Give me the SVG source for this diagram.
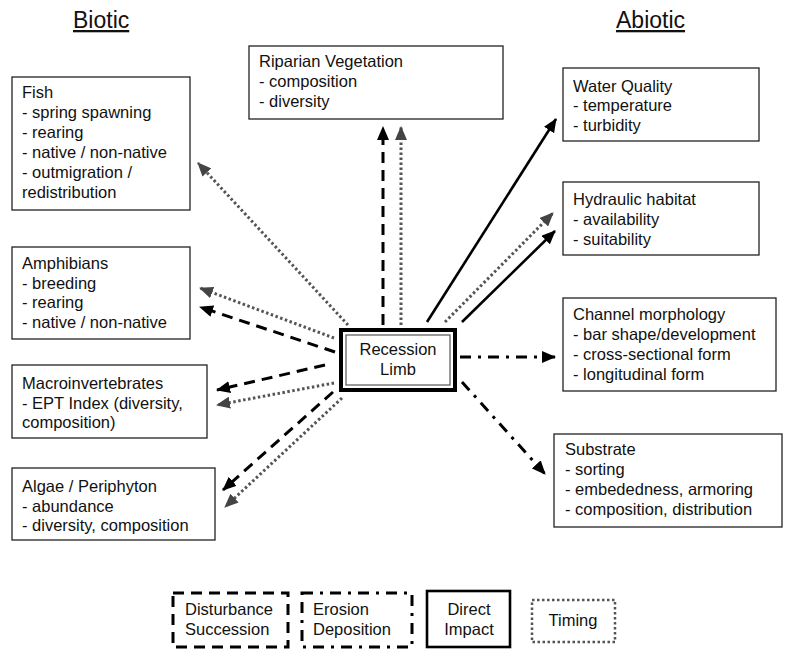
<svg xmlns="http://www.w3.org/2000/svg" width="785" height="656" viewBox="0 0 785 656">
<style>
text{font-family:"Liberation Sans",Arial,sans-serif;font-size:16.5px;fill:#111}
.title{font-size:23px;text-decoration:underline}
.box{fill:#fff;stroke:#222;stroke-width:1.3}
.c{text-anchor:middle}
.dash{fill:none;stroke:#000;stroke-width:3;stroke-dasharray:11 7}
.dot{fill:none;stroke:#555;stroke-width:3;stroke-dasharray:2.5 2.5}
.dd{fill:none;stroke:#000;stroke-width:3;stroke-dasharray:11 7 3 7}
.solid{fill:none;stroke:#000;stroke-width:2.6}
</style>
<defs>
<marker id="ab" markerUnits="userSpaceOnUse" markerWidth="14" markerHeight="12" refX="13" refY="6" orient="auto" viewBox="0 0 14 12"><path d="M0,0 L14,6 L0,12 z" fill="#000"/></marker>
<marker id="ag" markerUnits="userSpaceOnUse" markerWidth="14" markerHeight="12" refX="13" refY="6" orient="auto" viewBox="0 0 14 12"><path d="M0,0 L14,6 L0,12 z" fill="#444"/></marker>
</defs>

<text class="title" x="73" y="28">Biotic</text>
<text class="title" x="616" y="28">Abiotic</text>

<g id="connectors">
<line class="dot" x1="348" y1="325" x2="198" y2="163" marker-end="url(#ag)"/>
<line class="dot" x1="334" y1="338" x2="200" y2="288" marker-end="url(#ag)"/>
<line class="dash" x1="335" y1="352" x2="200" y2="307" marker-end="url(#ab)"/>
<line class="dash" x1="325" y1="365" x2="217" y2="390" marker-end="url(#ab)"/>
<line class="dot" x1="334" y1="383" x2="217" y2="405" marker-end="url(#ag)"/>
<line class="dash" x1="333" y1="392" x2="223" y2="490" marker-end="url(#ab)"/>
<line class="dot" x1="342" y1="398" x2="225" y2="507" marker-end="url(#ag)"/>
<line class="dash" x1="383" y1="325" x2="383" y2="127" marker-end="url(#ab)"/>
<line class="dot" x1="401" y1="325" x2="401" y2="127" marker-end="url(#ag)"/>
<line class="solid" x1="427" y1="322" x2="556" y2="119" marker-end="url(#ab)"/>
<line class="dot" x1="445" y1="322" x2="553" y2="213" marker-end="url(#ag)"/>
<line class="solid" x1="462" y1="322" x2="555" y2="231" marker-end="url(#ab)"/>
<line class="dd" x1="460" y1="357" x2="555" y2="357" marker-end="url(#ab)"/>
<line class="dd" x1="462" y1="382" x2="545" y2="474" marker-end="url(#ab)"/>
</g>

<g id="recession">
<rect x="341" y="330" width="114" height="60" fill="#fff" stroke="#000" stroke-width="4"/>
<rect x="346" y="335" width="104" height="50" fill="none" stroke="#555" stroke-width="1.2"/>
<text class="c" x="398" y="355">Recession</text>
<text class="c" x="398" y="375">Limb</text>
</g>

<g id="fish">
<rect class="box" x="12" y="77" width="178" height="133"/>
<text x="22" y="98">Fish</text>
<text x="22" y="118">- spring spawning</text>
<text x="22" y="138">- rearing</text>
<text x="22" y="158">- native / non-native</text>
<text x="22" y="178">- outmigration /</text>
<text x="22" y="198">redistribution</text>
</g>

<g id="riparian">
<rect class="box" x="249" y="46" width="254" height="73"/>
<text x="259" y="67">Riparian Vegetation</text>
<text x="259" y="87">- composition</text>
<text x="259" y="107">- diversity</text>
</g>

<g id="amphibians">
<rect class="box" x="12" y="247" width="178" height="92"/>
<text x="22" y="269">Amphibians</text>
<text x="22" y="289">- breeding</text>
<text x="22" y="308">- rearing</text>
<text x="22" y="328">- native / non-native</text>
</g>

<g id="macro">
<rect class="box" x="12" y="365" width="195" height="73"/>
<text x="22" y="389">Macroinvertebrates</text>
<text x="22" y="409">- EPT Index (diversity,</text>
<text x="22" y="428">composition)</text>
</g>

<g id="algae">
<rect class="box" x="12" y="468" width="203" height="72"/>
<text x="22" y="492">Algae / Periphyton</text>
<text x="22" y="512">- abundance</text>
<text x="22" y="531">- diversity, composition</text>
</g>

<g id="water">
<rect class="box" x="563" y="68" width="196" height="73"/>
<text x="573" y="92">Water Quality</text>
<text x="573" y="111">- temperature</text>
<text x="573" y="131">- turbidity</text>
</g>

<g id="hydraulic">
<rect class="box" x="563" y="182" width="196" height="73"/>
<text x="573" y="205">Hydraulic habitat</text>
<text x="573" y="225">- availability</text>
<text x="573" y="245">- suitability</text>
</g>

<g id="channel">
<rect class="box" x="563" y="298" width="213" height="93"/>
<text x="573" y="320">Channel morphology</text>
<text x="573" y="340">- bar shape/development</text>
<text x="573" y="360">- cross-sectional form</text>
<text x="573" y="380">- longitudinal form</text>
</g>

<g id="substrate">
<rect class="box" x="554" y="434" width="228" height="93"/>
<text x="565" y="455">Substrate</text>
<text x="565" y="475">- sorting</text>
<text x="565" y="495">- embededness, armoring</text>
<text x="565" y="515">- composition, distribution</text>
</g>

<g id="legend-disturbance">
<rect x="173" y="593" width="115" height="54" fill="none" stroke="#000" stroke-width="3" stroke-dasharray="11 7"/>
<text x="185" y="615">Disturbance</text>
<text x="185" y="635">Succession</text>
</g>
<g id="legend-erosion">
<rect x="302" y="593" width="110" height="54" fill="none" stroke="#000" stroke-width="3" stroke-dasharray="11 7 3 7"/>
<text x="313" y="615">Erosion</text>
<text x="313" y="635">Deposition</text>
</g>
<g id="legend-direct">
<rect x="427" y="591" width="83" height="56" fill="none" stroke="#000" stroke-width="2.6"/>
<text class="c" x="469" y="615">Direct</text>
<text class="c" x="469" y="635">Impact</text>
</g>
<g id="legend-timing">
<rect x="532" y="600" width="83" height="42" fill="none" stroke="#555" stroke-width="2.5" stroke-dasharray="2.5 2.5"/>
<text class="c" x="573" y="626">Timing</text>
</g>
</svg>
